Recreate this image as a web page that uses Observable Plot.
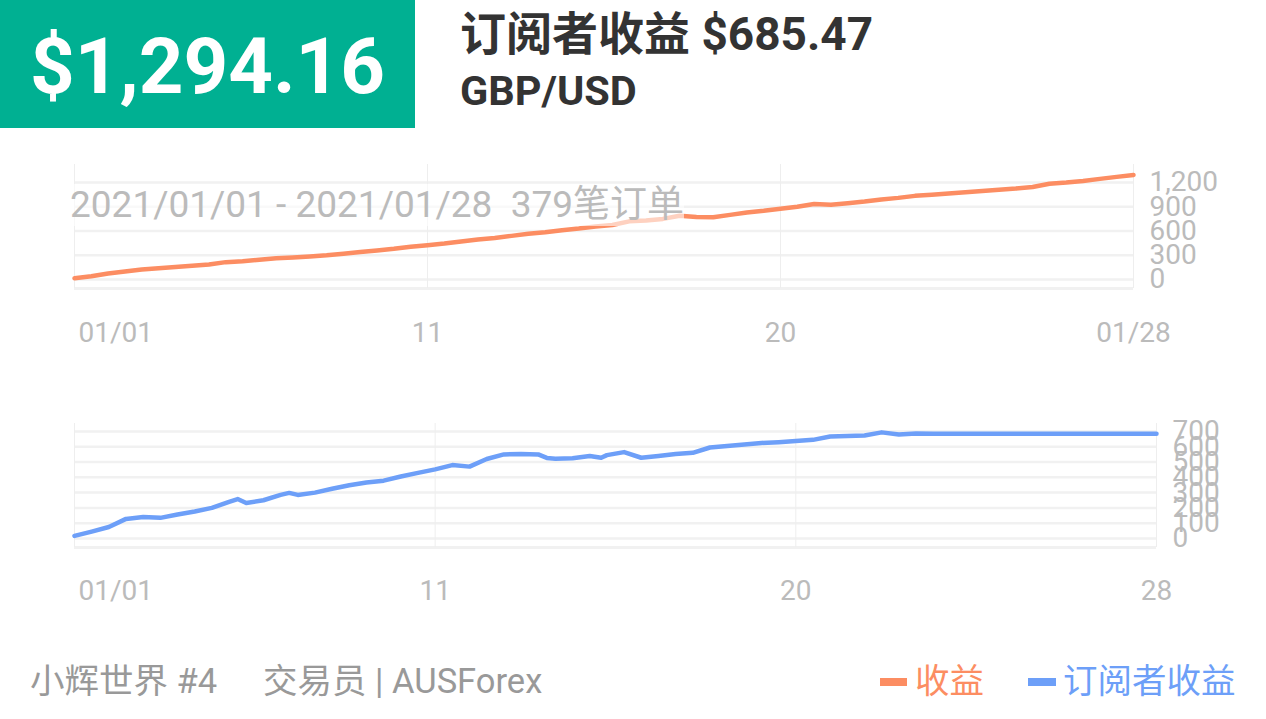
<!DOCTYPE html>
<html><head><meta charset="utf-8">
<script src="https://cdn.jsdelivr.net/npm/d3@7"></script>
<script src="https://cdn.jsdelivr.net/npm/@observablehq/plot@0.6"></script>
<style>
html,body{margin:0;padding:0;background:#fff;}
body{width:1266px;height:719px;position:relative;overflow:hidden;font-family:Roboto,"Noto Sans CJK SC",sans-serif;}
#badge{position:absolute;left:0;top:0;width:415px;height:128px;background:#00b092;}
#badge span{position:absolute;left:0;width:415px;top:28px;text-align:center;color:#fff;font-weight:700;font-size:78px;line-height:78px;}
#title{position:absolute;left:460px;top:11px;font-weight:700;font-size:46px;line-height:46px;color:#333;white-space:pre;}
#pair{position:absolute;left:460px;top:70px;font-weight:700;font-size:41.5px;line-height:41px;color:#333;}
#range{position:absolute;left:70px;top:184px;font-size:37px;line-height:42px;color:#bbb;background:rgba(255,255,255,0.6);white-space:pre;}
#chart1{position:absolute;left:0;top:150px;}
#chart2{position:absolute;left:0;top:410px;}
.ft{position:absolute;top:664px;font-size:34.5px;line-height:34px;white-space:pre;}
.sw{position:absolute;top:678px;height:8px;}
</style>
</head><body>
<div id="badge"><span id="total"></span></div>
<div id="title"></div>
<div id="pair"></div>
<div id="chart1"></div>
<div id="chart2"></div>
<div id="range"></div>
<div class="ft" id="f1" style="left:30px;color:#999"></div>
<div class="ft" id="f2" style="left:263px;color:#999"></div>
<div class="sw" id="sw1" style="left:880px;width:27px"></div>
<div class="ft" id="l1" style="left:915px"></div>
<div class="sw" id="sw2" style="left:1028px;width:28px"></div>
<div class="ft" id="l2" style="left:1063px"></div>
<script>
// ---- texts ----
const totalText = "$1,294.16";
const titleText = "订阅者收益 $685.47";
const pairText = "GBP/USD";
const rangeText = "2021/01/01 - 2021/01/28  379笔订单";
const footerName = "小辉世界 #4";
const footerRole = "交易员 | AUSForex";
const seriesNames = ["收益", "订阅者收益"];
const seriesColors = ["#fc8d62", "#6d9ff8"];

// ---- x axis (order index) ----
const xTickIdx = [0, 126, 252, 378];
const topTickLabels = ["01/01", "11", "20", "01/28"];
const botTickLabels = ["01/01", "11", "20", "28"];

// ---- series: 收益 (cumulative profit) ----
const profitIdx = [0,6,12,18,24,30,36,42,48,54,60,66,72,78,84,90,96,102,108,114,120,126,132,138,144,150,156,162,168,174,180,186,192,198,204,210,216,222,228,234,240,246,252,258,264,270,276,282,288,294,300,306,312,318,324,330,336,342,348,354,360,366,372,378];
const profitVal = [15,40,75,100,125,140,155,170,185,215,225,245,262,272,285,300,320,340,360,380,405,425,445,470,495,515,540,565,585,610,630,655,675,720,730,750,790,775,770,800,830,850,875,900,935,925,945,965,990,1010,1035,1050,1065,1080,1095,1110,1125,1145,1185,1200,1220,1245,1270,1294.16];
const profitTicks = [0, 300, 600, 900, 1200];
const profitDomain = [-111, 1423];

// ---- series: 订阅者收益 (subscriber profit) ----
const subIdx = [0,6,12,18,24,30,36,42,48,54,57,60,66,72,75,78,84,90,96,102,108,114,120,126,132,138,144,150,156,162,165,168,174,180,184,186,192,198,204,210,216,222,228,234,240,246,252,258,264,270,276,282,288,294,300,378];
const subVal = [17,45,75,128,140,135,157,176,200,240,258,232,250,285,298,285,300,325,348,366,378,405,429,452,480,470,520,550,553,550,527,522,525,540,528,545,565,528,540,552,560,595,605,615,625,630,637,645,667,670,674,694,680,686,685.47,685.47];
const subTicks = [0, 100, 200, 300, 400, 500, 600, 700];
const subDomain = [-59, 752];

// ---- header / footer ----
document.getElementById("total").textContent = totalText;
document.getElementById("title").textContent = titleText;
document.getElementById("pair").textContent = pairText;
document.getElementById("range").textContent = rangeText;
document.getElementById("f1").textContent = footerName;
document.getElementById("f2").textContent = footerRole;
document.getElementById("l1").textContent = seriesNames[0];
document.getElementById("l1").style.color = seriesColors[0];
document.getElementById("l2").textContent = seriesNames[1];
document.getElementById("l2").style.color = seriesColors[1];
document.getElementById("sw1").style.background = seriesColors[0];
document.getElementById("sw2").style.background = seriesColors[1];

function makeChart(idx, val, color, ticks, domain, labels, opts) {
  const data = idx.map((i, k) => ({i, v: val[k]}));
  const labelOf = t => labels[xTickIdx.indexOf(t)];
  const axisStyle = {tickSize: 0, fill: "#bbb", fontSize: 28, label: null};
  return Plot.plot({
    width: 1266, height: 200,
    marginLeft: 74, marginRight: opts.marginRight, marginTop: opts.marginTop, marginBottom: opts.marginBottom,
    style: {fontFamily: "Roboto, sans-serif", background: "transparent", overflow: "visible"},
    x: {domain: [0, 378], axis: null, label: null},
    y: {domain: domain, axis: null, label: null},
    marks: [
      Plot.ruleY(ticks, {stroke: "#f1f1f1", strokeWidth: 2.5}),
      Plot.ruleY([domain[0]], {stroke: "#f1f1f1", strokeWidth: 3}),
      Plot.ruleX(xTickIdx, {stroke: "#eeeeee", strokeWidth: 1}),
      Plot.line(data, {x: "i", y: "v", stroke: color, strokeWidth: 4.5, strokeLinejoin: "round"}),
      Plot.axisY(ticks, {...axisStyle, anchor: "right", tickPadding: 16, tickFormat: d3.format(",")}),
      Plot.axisX(xTickIdx.slice(0, 1), {...axisStyle, tickPadding: opts.pad, textAnchor: "start", dx: 4, tickFormat: labelOf}),
      Plot.axisX(xTickIdx.slice(1), {...axisStyle, tickPadding: opts.pad, tickFormat: labelOf})
    ]
  });
}

document.getElementById("chart1").append(
  makeChart(profitIdx, profitVal, seriesColors[0], profitTicks, profitDomain, topTickLabels,
    {marginRight: 133, marginTop: 14, marginBottom: 62, pad: 34}));
document.getElementById("chart2").append(
  makeChart(subIdx, subVal, seriesColors[1], subTicks, subDomain, botTickLabels,
    {marginRight: 110, marginTop: 13, marginBottom: 63, pad: 33}));
</script>
</body></html>
